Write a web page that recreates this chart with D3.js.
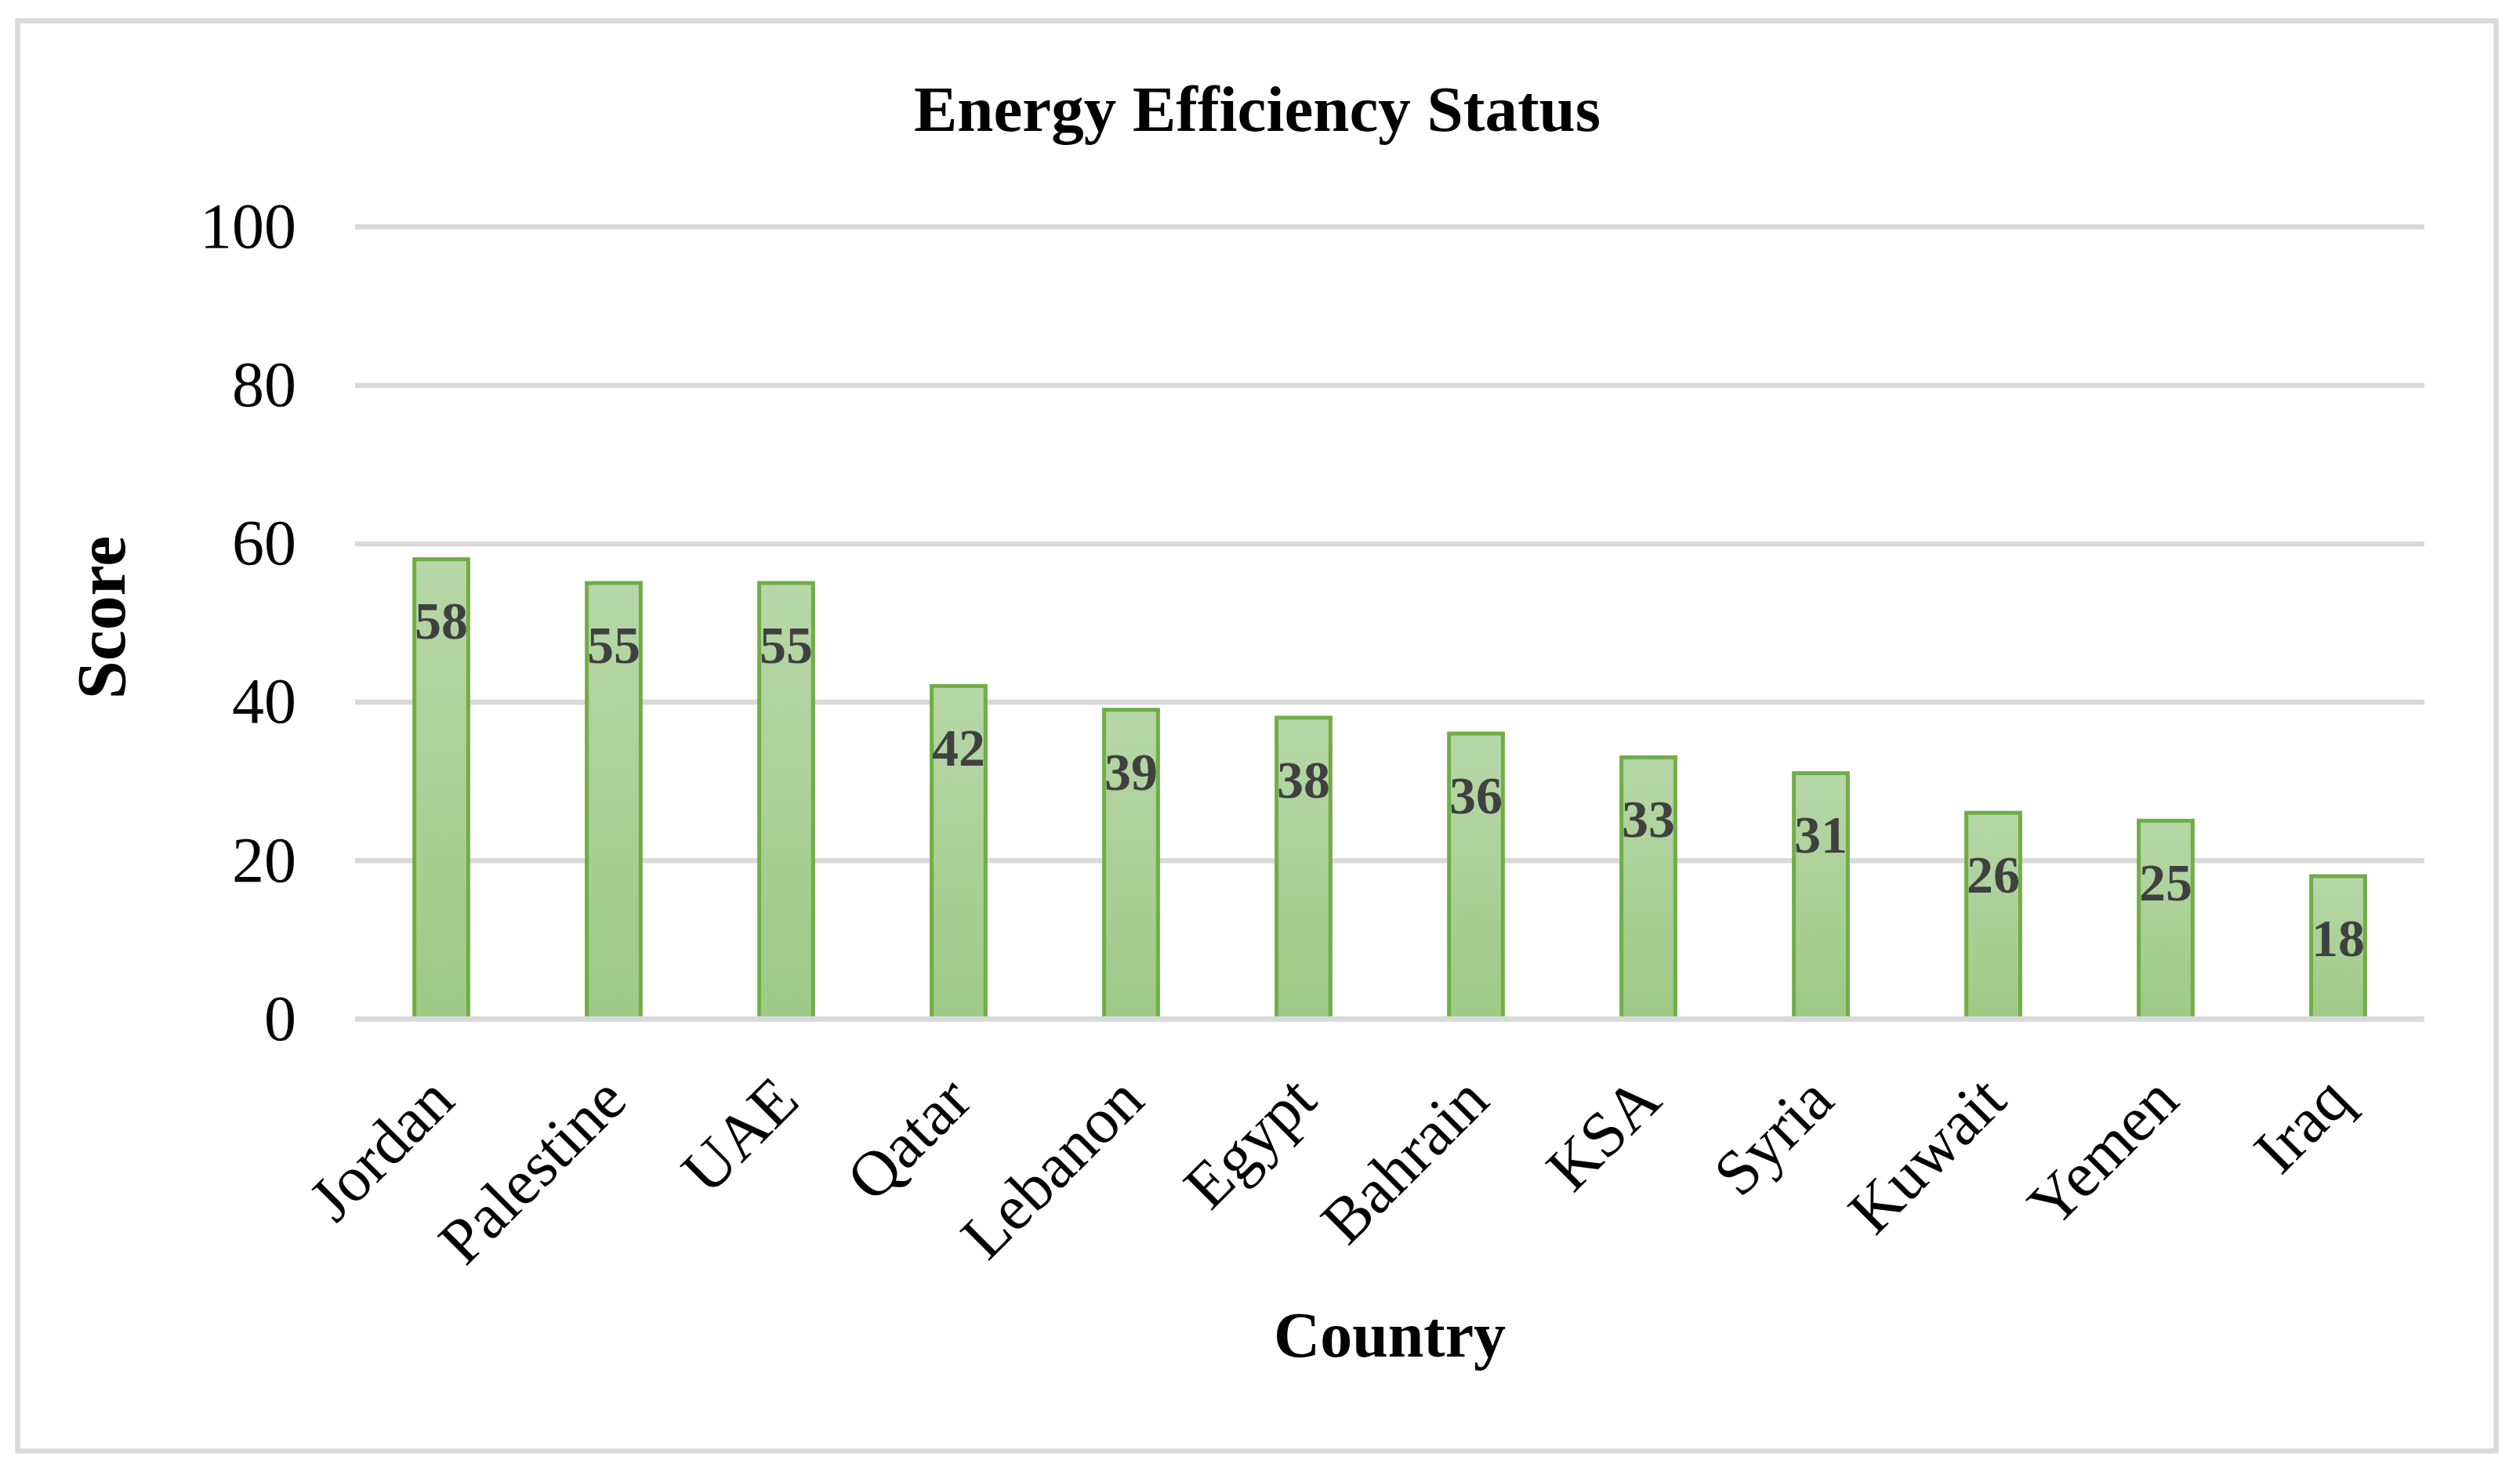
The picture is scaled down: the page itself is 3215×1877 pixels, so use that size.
<!DOCTYPE html>
<html>
<head>
<meta charset="utf-8">
<script src="https://cdn.jsdelivr.net/npm/d3@7"></script>
<style>
  body { margin: 0; background: #fff; }
  svg text { font-family: "Liberation Serif", "Times New Roman", serif; }
</style>
</head>
<body>
<div id="chart"></div>
<script>
// chart data
const countries = ["Jordan", "Palestine", "UAE", "Qatar", "Lebanon", "Egypt",
                   "Bahrain", "KSA", "Syria", "Kuwait", "Yemen", "Iraq"];
const scores = [58, 55, 55, 42, 39, 38, 36, 33, 31, 26, 25, 18];
const yTicks = [0, 20, 40, 60, 80, 100];

const data = countries.map((c, i) => ({country: c, score: scores[i]}));

const W = 3215, H = 1877;
const margin = {top: 289, right: 122, bottom: 577, left: 453},
      width = W - margin.left - margin.right,
      height = H - margin.top - margin.bottom;

const root = d3.select("#chart")
    .append("svg")
    .attr("width", W)
    .attr("height", H);

root.append("rect")
    .attr("width", W).attr("height", H)
    .attr("fill", "#fff");

// chart area border
root.append("rect")
    .attr("x", 22.5).attr("y", 26.5)
    .attr("width", 3162).attr("height", 1825)
    .attr("fill", "none")
    .attr("stroke", "#d9d9d9")
    .attr("stroke-width", 6.5);

const defs = root.append("defs");
const grad = defs.append("linearGradient")
    .attr("id", "barFill")
    .attr("x1", 0).attr("y1", 0).attr("x2", 0).attr("y2", 1);
grad.append("stop").attr("offset", "0%").attr("stop-color", "#b7d7a8");
grad.append("stop").attr("offset", "100%").attr("stop-color", "#9dca86");

const svg = root.append("g")
    .attr("transform", `translate(${margin.left},${margin.top})`);

const x = d3.scaleBand()
    .domain(countries)
    .range([0, width])
    .paddingInner(0.6875)
    .paddingOuter(0.34375);

const y = d3.scaleLinear()
    .domain([0, 100])
    .range([height, 0]);

/* Y axis + gridlines */
const yAxis = svg.append("g")
    .call(d3.axisLeft(y).tickValues(yTicks).tickSize(-width).tickPadding(75));
yAxis.select(".domain").remove();
yAxis.selectAll("line")
    .attr("stroke", "#d9d9d9")
    .attr("stroke-width", 6.5);
yAxis.selectAll("text")
    .attr("fill", "#000")
    .style("font-size", "82px");

// bars
svg.append("g")
    .selectAll("rect")
    .data(data)
    .enter()
    .append("rect")
    .attr("x", d => x(d.country))
    .attr("y", d => y(d.score))
    .attr("width", x.bandwidth())
    .attr("height", d => height - y(d.score))
    .attr("fill", "url(#barFill)")
    .attr("stroke", "#70ad47")
    .attr("stroke-width", 5);

// zero line on top of bar bottoms
svg.append("line")
    .attr("x1", 0).attr("x2", width)
    .attr("y1", y(0)).attr("y2", y(0))
    .attr("stroke", "#d9d9d9")
    .attr("stroke-width", 6.5);

// data labels (inside end)
svg.append("g")
    .selectAll("text")
    .data(data)
    .enter()
    .append("text")
    .attr("x", d => x(d.country) + x.bandwidth() / 2)
    .attr("y", d => y(d.score) + 78)
    .attr("dy", "0.35em")
    .attr("text-anchor", "middle")
    .attr("fill", "#404040")
    .style("font-size", "68px")
    .style("font-weight", "bold")
    .text(d => d.score);

/* X axis */
const xAxis = svg.append("g")
    .attr("transform", `translate(0,${height})`)
    .call(d3.axisBottom(x).tickSize(0).tickPadding(0));
xAxis.select(".domain").remove();
xAxis.selectAll("text")
    .attr("fill", "#000")
    .style("font-size", "82px")
    .attr("text-anchor", "end")
    .attr("dy", null)
    .attr("y", null)
    .attr("transform", "translate(20,108) rotate(-45)");

// Titles and labels
root.append("text")
    .attr("x", 1604)
    .attr("y", 167)
    .attr("text-anchor", "middle")
    .attr("fill", "#000")
    .style("font-size", "83px")
    .style("font-weight", "bold")
    .text("Energy Efficiency Status");

svg.append("text")
    .attr("x", width / 2)
    .attr("y", height + 431)
    .attr("text-anchor", "middle")
    .attr("fill", "#000")
    .style("font-size", "82px")
    .style("font-weight", "bold")
    .text("Country");

svg.append("text")
    .attr("transform", "rotate(-90)")
    .attr("x", -(788 - margin.top))
    .attr("y", 159 - margin.left)
    .attr("text-anchor", "middle")
    .attr("fill", "#000")
    .style("font-size", "88px")
    .style("font-weight", "bold")
    .text("Score");
</script>
</body>
</html>
